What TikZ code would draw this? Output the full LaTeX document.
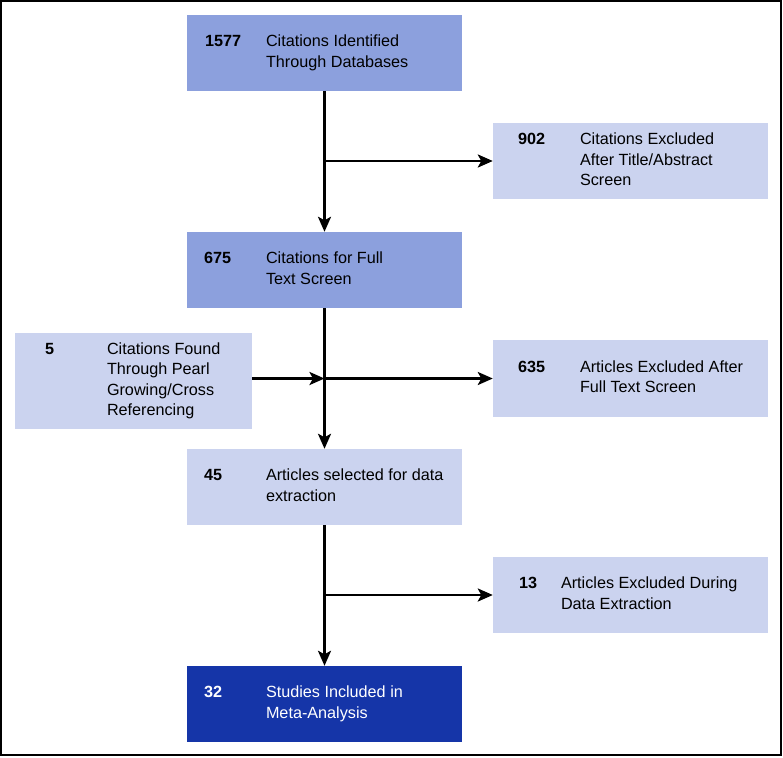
\documentclass[tikz,border=0pt]{standalone}
\usepackage{fontspec}
\setmainfont{Liberation Sans}
\usetikzlibrary{arrows.meta}
\definecolor{midblue}{RGB}{140,160,221}
\definecolor{lightblue}{RGB}{203,211,239}
\definecolor{darkblue}{RGB}{21,53,168}
\newcommand\entrytext[3]{\makebox[#1][l]{\bfseries #2}\begin{tabular}[t]{@{}l@{}}#3\end{tabular}}
\tikzset{
  box/.style={draw=none, inner sep=0pt, minimum width=275pt, minimum height=76pt},
  txt/.style={anchor=west, inner sep=0pt, font=\fontsize{16.2}{20.4}\selectfont},
  conn/.style={line width=2.7pt, -{Stealth[length=15pt,width=13pt,inset=3.5pt]}}
}
\begin{document}
\begin{tikzpicture}[x=1pt,y=-1pt]
\useasboundingbox (0,0) rectangle (783,757);
\draw[line width=2.2pt] (1,1) rectangle (781,755);

\node[box, fill=midblue] (b1) at (324.5,53) {};
\node[box, fill=lightblue] (b2) at (630.5,161) {};
\node[box, fill=midblue] (b3) at (324.5,270) {};
\node[box, fill=lightblue, minimum width=237pt, minimum height=96pt] (b4) at (133.5,381) {};
\node[box, fill=lightblue, minimum height=77pt] (b5) at (630.5,378.5) {};
\node[box, fill=lightblue] (b6) at (324.5,487) {};
\node[box, fill=lightblue] (b7) at (630.5,595) {};
\node[box, fill=darkblue] (b8) at (324.5,704) {};

\node[txt] (t1) at ([xshift=18pt]b1.west) {\entrytext{61pt}{1577}{Citations Identified\\Through Databases}};
\node[txt] (t2) at ([xshift=25pt]b2.west) {\entrytext{62pt}{902}{Citations Excluded\\After Title/Abstract\\Screen}};
\node[txt] (t3) at ([xshift=17pt]b3.west) {\entrytext{62pt}{675}{Citations for Full\\Text Screen}};
\node[txt] (t4) at ([xshift=30pt]b4.west) {\entrytext{62pt}{5}{Citations Found\\Through Pearl\\Growing/Cross\\Referencing}};
\node[txt] (t5) at ([xshift=25pt]b5.west) {\entrytext{62pt}{635}{Articles Excluded After\\Full Text Screen}};
\node[txt] (t6) at ([xshift=17pt]b6.west) {\entrytext{62pt}{45}{Articles selected for data\\extraction}};
\node[txt] (t7) at ([xshift=26pt]b7.west) {\entrytext{42pt}{13}{Articles Excluded During\\Data Extraction}};
\node[txt, text=white] (t8) at ([xshift=17pt]b8.west) {\entrytext{62pt}{32}{Studies Included in\\Meta-Analysis}};

\coordinate (j1) at (324.5,161);
\coordinate (j2) at (324.5,378.5);
\coordinate (j3) at (324.5,595);

\draw[conn] (b1.south) -- (b3.north);
\draw[conn] (j1) -- (b2.west);
\draw[conn] (b3.south) -- (b6.north);
\draw[conn] (b4.east |- j2) -- (j2);
\draw[conn] (j2) -- (b5.west);
\draw[conn] (b6.south) -- (b8.north);
\draw[conn] (j3) -- (b7.west);
\end{tikzpicture}
\end{document}
